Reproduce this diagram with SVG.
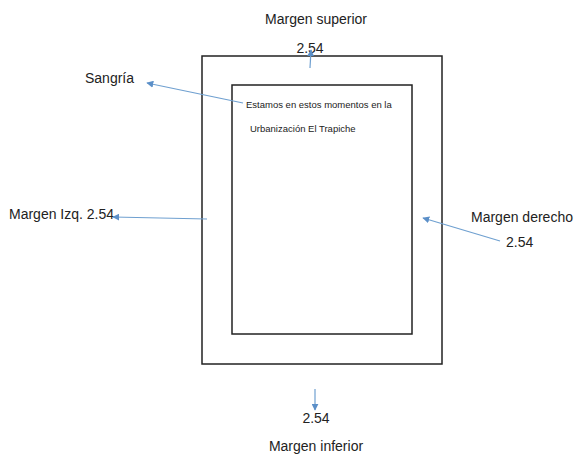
<svg xmlns="http://www.w3.org/2000/svg" width="576" height="454" viewBox="0 0 576 454">
<defs>
<style>
.t{font-family:"Liberation Sans",Arial,sans-serif;font-size:14px;fill:#222}
.s{font-family:"Liberation Sans",Arial,sans-serif;font-size:9.5px;fill:#222}
.box{fill:none;stroke:#222;stroke-width:1.5}
.c{stroke:#6fa0d0;stroke-width:1.2;fill:none;marker-end:url(#ah)}
</style>
<marker id="ah" viewBox="0 0 10 10" refX="9" refY="5" markerWidth="7" markerHeight="7" orient="auto" markerUnits="userSpaceOnUse">
<path d="M0,0 L10,5 L0,10 z" fill="#5b8fc8"/>
</marker>
</defs>
<rect width="576" height="454" fill="#fff"/>
<g id="outer-page"><rect class="box" x="202" y="56" width="240" height="308"/></g>
<g id="inner-page"><rect class="box" x="232" y="85" width="180" height="249"/>
<text class="s" x="246" y="108">Estamos en estos momentos en la</text>
<text class="s" x="250" y="132">Urbanización El Trapiche</text></g>
<g id="margen-superior"><text class="t" x="316" y="24" text-anchor="middle">Margen superior</text>
<text class="t" x="310" y="53" text-anchor="middle">2.54</text></g>
<g id="sangria"><text class="t" x="85" y="83">Sangría</text></g>
<g id="margen-izq"><text class="t" x="9" y="219">Margen Izq. 2.54</text></g>
<g id="margen-derecho"><text class="t" x="471" y="222">Margen derecho</text>
<text class="t" x="506" y="247">2.54</text></g>
<g id="margen-inferior"><text class="t" x="316" y="423" text-anchor="middle">2.54</text>
<text class="t" x="316" y="451" text-anchor="middle">Margen inferior</text></g>
<g id="connectors">
<line class="c" x1="310" y1="68" x2="311" y2="50"/>
<line class="c" x1="243" y1="103" x2="147" y2="83"/>
<line class="c" x1="207" y1="219" x2="113" y2="217"/>
<line class="c" x1="500" y1="241" x2="423" y2="218"/>
<line class="c" x1="315" y1="389" x2="315" y2="410"/>
</g>
</svg>
